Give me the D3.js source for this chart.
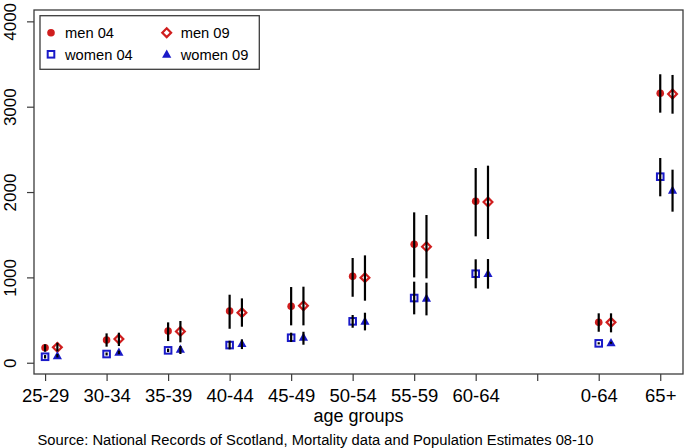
<!DOCTYPE html>
<html>
<head>
<meta charset="utf-8">
<script src="https://cdn.jsdelivr.net/npm/d3@7"></script>
<style>
  html, body { margin: 0; padding: 0; background: #fff; }
  svg { display: block; font-family: "Liberation Sans", Arial, Helvetica, sans-serif; }
</style>
</head>
<body>
<svg id="chart" width="685" height="448"></svg>
<script>
// ---- data ----
const categories = ["25-29","30-34","35-39","40-44","45-49","50-54","55-59","60-64","","0-64","65+"];
const positions  = [1,2,3,4,5,6,7,8,9,10,11];

const men04    = [176, 266, 371, 606, 661, 1012, 1387, 1891, null, 473, 3157];
const men04Lo  = [129, 188, 254, 398, 438,  773, 1000, 1481, null, 363, 2930];
const men04Hi  = [216, 344, 473, 797, 887, 1227, 1762, 2282, null, 579, 3380];

const men09    = [180, 278, 367, 587, 668,  997, 1360, 1883, null, 473, 3149];
const men09Lo  = [134, 196, 239, 422, 438,  727,  989, 1450, null, 356, 2918];
const men09Hi  = [234, 352, 489, 754, 891, 1258, 1731, 2309, null, 579, 3372];

const women04   = [ 70, 102, 145, 207, 293, 485, 758, 1043, null, 227, 2180];
const women04Lo = [ 50,  85, 125, 157, 243, 410, 567,  872, null, 215, 1950];
const women04Hi = [ 90, 120, 165, 258, 352, 559, 950, 1212, null, 240, 2399];

const women09   = [ 82, 121, 157, 223, 297, 485, 755, 1043, null, 234, 2020];
const women09Lo = [ 62, 100, 102, 160, 211, 379, 555,  868, null, 222, 1770];
const women09Hi = [102, 142, 196, 274, 363, 586, 938, 1215, null, 246, 2262];

const yTicks = [0, 1000, 2000, 3000, 4000];
const legendLabels = ["men 04", "men 09", "women 04", "women 09"];
const xTitle = "age groups";
const sourceText = "Source: National Records of Scotland, Mortality data and Population Estimates 08-10";

// ---- layout ----
const RED = "#d01e1e", BLUE = "#1a1ac8", AXIS = "#3c3c3c";
const svg = d3.select("#chart");
const plot = {left: 34, right: 683, top: 10, bottom: 374};
const x = d3.scaleLinear().domain([0.82, 11.37]).range([plot.left, plot.right]);
const y = d3.scaleLinear().domain([-132, 4133]).range([plot.bottom, plot.top]);
const offset09 = 0.2;

// axes
const xAxis = svg.append("g")
  .attr("transform", `translate(0,${plot.bottom})`)
  .call(d3.axisBottom(x).tickValues(positions).tickFormat((d, i) => categories[i]).tickSize(7).tickPadding(8));
xAxis.select(".domain").remove();
xAxis.selectAll("line").attr("stroke", AXIS).attr("stroke-width", 1.2);
xAxis.selectAll("text").attr("fill", "#000").style("font-size", "18.5px").style("font-family", "'Liberation Sans', Arial, sans-serif");

const yAxis = svg.append("g")
  .attr("transform", `translate(${plot.left},0)`)
  .call(d3.axisLeft(y).tickValues(yTicks).tickFormat(d3.format("d")).tickSize(7));
yAxis.select(".domain").remove();
yAxis.selectAll("line").attr("stroke", AXIS).attr("stroke-width", 1.2);
yAxis.selectAll("text")
  .attr("x", null).attr("dy", null)
  .attr("text-anchor", "middle")
  .attr("transform", "translate(-18,0) rotate(-90)")
  .attr("fill", "#000")
  .style("font-size", "17px").style("font-family", "'Liberation Sans', Arial, sans-serif");

// box
svg.append("rect")
  .attr("x", plot.left).attr("y", plot.top)
  .attr("width", plot.right - plot.left).attr("height", plot.bottom - plot.top)
  .attr("fill", "none").attr("stroke", AXIS).attr("stroke-width", 1.3);

// titles
svg.append("text").attr("x", (plot.left + plot.right) / 2).attr("y", 422)
  .attr("text-anchor", "middle").style("font-size", "18px").text(xTitle);
svg.append("text").attr("x", 37.5).attr("y", 445)
  .style("font-size", "14.75px").text(sourceText);

// series
const series = [
  {vals: men04,   lo: men04Lo,   hi: men04Hi,   dx: 0,        shape: "circle"},
  {vals: men09,   lo: men09Lo,   hi: men09Hi,   dx: offset09, shape: "diamond"},
  {vals: women04, lo: women04Lo, hi: women04Hi, dx: 0,        shape: "square"},
  {vals: women09, lo: women09Lo, hi: women09Hi, dx: offset09, shape: "triangle"}
];

function drawSymbol(g, shape, cx, cy) {
  if (shape === "circle") {
    g.append("circle").attr("cx", cx).attr("cy", cy).attr("r", 3.8).attr("fill", RED);
  } else if (shape === "diamond") {
    const s = 4.4;
    g.append("path").attr("d", `M${cx},${cy - s}L${cx + s},${cy}L${cx},${cy + s}L${cx - s},${cy}Z`)
      .attr("fill", "none").attr("stroke", RED).attr("stroke-width", 2.2);
  } else if (shape === "square") {
    const s = 3.3;
    g.append("rect").attr("x", cx - s).attr("y", cy - s).attr("width", 2 * s).attr("height", 2 * s)
      .attr("fill", "none").attr("stroke", BLUE).attr("stroke-width", 2);
  } else if (shape === "triangle") {
    g.append("path").attr("d", `M${cx},${cy - 4.8}L${cx + 4.6},${cy + 3.4}L${cx - 4.6},${cy + 3.4}Z`)
      .attr("fill", BLUE);
  }
}

const marks = svg.append("g");
series.forEach(s => {
  positions.forEach((p, i) => {
    if (s.vals[i] == null) return;
    drawSymbol(marks, s.shape, x(p + s.dx), y(s.vals[i]));
  });
});
const bars = svg.append("g");
series.forEach(s => {
  positions.forEach((p, i) => {
    if (s.vals[i] == null) return;
    bars.append("line")
      .attr("x1", x(p + s.dx)).attr("x2", x(p + s.dx))
      .attr("y1", y(s.lo[i])).attr("y2", y(s.hi[i]))
      .attr("stroke", "#000").attr("stroke-width", 2.2);
  });
});

// legend
const lg = svg.append("g");
lg.append("rect").attr("x", 40).attr("y", 15.7).attr("width", 219.3).attr("height", 53.6)
  .attr("fill", "#fff").attr("stroke", AXIS).attr("stroke-width", 1.3);
const legPos = [[51, 32.7], [166.7, 32.7], [51, 54.3], [166.7, 54.3]];
series.forEach((s, i) => {
  const [lx, ly] = legPos[i];
  drawSymbol(lg, s.shape, lx, ly);
  lg.append("text").attr("x", lx + 14).attr("y", ly + 5.3)
    .style("font-size", "14.7px").text(legendLabels[i]);
});
</script>
</body>
</html>
